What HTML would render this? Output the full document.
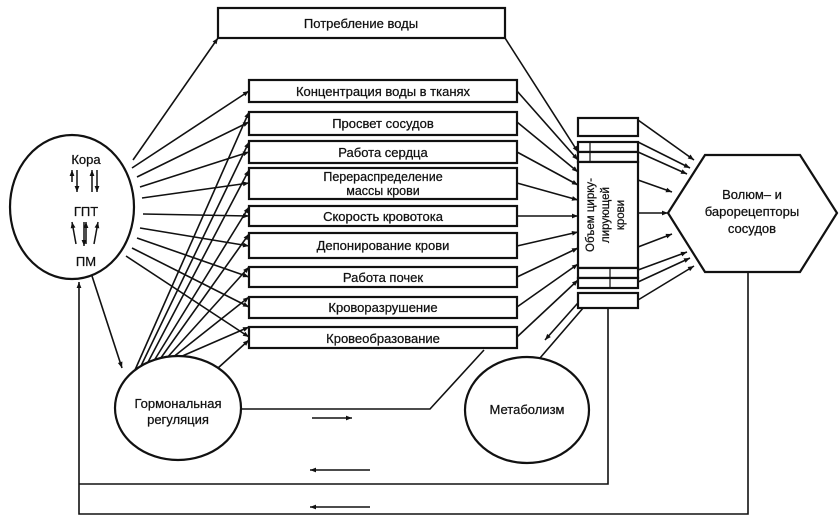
<!DOCTYPE html>
<html><head><meta charset="utf-8"><style>
html,body{margin:0;padding:0;background:#fff}
svg{display:block}
text{font-family:"Liberation Sans",sans-serif;font-size:13px;fill:#111;stroke:#111;stroke-width:0.25}
</style></head><body>
<svg width="840" height="529" viewBox="0 0 840 529" xmlns="http://www.w3.org/2000/svg">
<defs><marker id="a" viewBox="0 0 10 10" refX="10" refY="5" markerWidth="8" markerHeight="6" orient="auto" markerUnits="userSpaceOnUse"><path d="M0,1 L10,5 L0,9 z" fill="#111"/></marker></defs>
<g stroke="#111" stroke-width="1.6" fill="none">
<rect x="218" y="8" width="287" height="30" stroke-width="2.2" fill="#fff"/>
<line x1="133" y1="160" x2="218" y2="38" marker-end="url(#a)"/>
<line x1="505" y1="38" x2="578" y2="152" marker-end="url(#a)"/>
<line x1="132" y1="168" x2="249" y2="91" marker-end="url(#a)"/>
<line x1="137" y1="177" x2="249" y2="122" marker-end="url(#a)"/>
<line x1="140" y1="187" x2="249" y2="152" marker-end="url(#a)"/>
<line x1="142" y1="198" x2="249" y2="183" marker-end="url(#a)"/>
<line x1="143" y1="214" x2="249" y2="216" marker-end="url(#a)"/>
<line x1="140" y1="228" x2="249" y2="246" marker-end="url(#a)"/>
<line x1="137" y1="238" x2="249" y2="277" marker-end="url(#a)"/>
<line x1="132" y1="248" x2="249" y2="307" marker-end="url(#a)"/>
<line x1="126" y1="256" x2="249" y2="337" marker-end="url(#a)"/>
<line x1="135" y1="370" x2="249" y2="112" marker-end="url(#a)"/>
<line x1="140" y1="368" x2="249" y2="142" marker-end="url(#a)"/>
<line x1="146" y1="366" x2="249" y2="170" marker-end="url(#a)"/>
<line x1="152" y1="364" x2="249" y2="207" marker-end="url(#a)"/>
<line x1="158" y1="362" x2="249" y2="234" marker-end="url(#a)"/>
<line x1="165" y1="360" x2="249" y2="267" marker-end="url(#a)"/>
<line x1="172" y1="358" x2="249" y2="297" marker-end="url(#a)"/>
<line x1="180" y1="357" x2="249" y2="327" marker-end="url(#a)"/>
<line x1="218" y1="368" x2="249" y2="340" marker-end="url(#a)"/>
<line x1="92" y1="276" x2="122" y2="368" marker-end="url(#a)"/>
<line x1="517" y1="91" x2="578" y2="160" marker-end="url(#a)"/>
<line x1="517" y1="122" x2="578" y2="172" marker-end="url(#a)"/>
<line x1="517" y1="152" x2="578" y2="185" marker-end="url(#a)"/>
<line x1="517" y1="183" x2="578" y2="200" marker-end="url(#a)"/>
<line x1="517" y1="216" x2="578" y2="216" marker-end="url(#a)"/>
<line x1="517" y1="246" x2="578" y2="232" marker-end="url(#a)"/>
<line x1="517" y1="277" x2="578" y2="248" marker-end="url(#a)"/>
<line x1="517" y1="307" x2="578" y2="264" marker-end="url(#a)"/>
<line x1="517" y1="337" x2="578" y2="280" marker-end="url(#a)"/>
<line x1="585" y1="295" x2="545" y2="340" marker-end="url(#a)"/>
<line x1="540" y1="358" x2="590" y2="300" marker-end="url(#a)"/>
<line x1="638" y1="120" x2="694" y2="160" marker-end="url(#a)"/>
<line x1="638" y1="142" x2="690" y2="168" marker-end="url(#a)"/>
<line x1="638" y1="152" x2="687" y2="174" marker-end="url(#a)"/>
<line x1="638" y1="180" x2="672" y2="192" marker-end="url(#a)"/>
<line x1="638" y1="213" x2="668" y2="213" marker-end="url(#a)"/>
<line x1="638" y1="247" x2="672" y2="234" marker-end="url(#a)"/>
<line x1="638" y1="270" x2="687" y2="252" marker-end="url(#a)"/>
<line x1="638" y1="282" x2="690" y2="258" marker-end="url(#a)"/>
<line x1="638" y1="300" x2="694" y2="266" marker-end="url(#a)"/>
<polyline points="748,272 748,514 79,514 79,282" marker-end="url(#a)"/>
<polyline points="608,308 608,484 79,484"/>
<polyline points="242,409 430,409 484,350"/>
<line x1="312" y1="418" x2="352" y2="418" marker-end="url(#a)"/>
<line x1="370" y1="470" x2="310" y2="470" marker-end="url(#a)"/>
<line x1="370" y1="507" x2="310" y2="507" marker-end="url(#a)"/>
</g>
<g stroke="#111" stroke-width="2.2" fill="#fff">
<rect x="249" y="80" width="268" height="22"/>
<rect x="249" y="112" width="268" height="23"/>
<rect x="249" y="141" width="268" height="22"/>
<rect x="249" y="168" width="268" height="31"/>
<rect x="249" y="206" width="268" height="20"/>
<rect x="249" y="233" width="268" height="25"/>
<rect x="249" y="267" width="268" height="20"/>
<rect x="249" y="297" width="268" height="21"/>
<rect x="249" y="327" width="268" height="21"/>
<ellipse cx="72" cy="207" rx="62" ry="72"/>
<ellipse cx="178" cy="408" rx="63" ry="52"/>
<ellipse cx="527" cy="410" rx="62" ry="53"/>
<rect x="578" y="118" width="60" height="18"/>
<rect x="578" y="142" width="60" height="10"/>
<rect x="578" y="152" width="60" height="10"/>
<rect x="578" y="162" width="60" height="106"/>
<rect x="578" y="268" width="60" height="10"/>
<rect x="578" y="278" width="60" height="10"/>
<rect x="578" y="293" width="60" height="15"/>
<line x1="590" y1="142" x2="590" y2="162" stroke-width="1.2"/>
<line x1="610" y1="268" x2="610" y2="288" stroke-width="1.2"/>
<polygon points="668,213 705,155 800,155 837,213 800,272 705,272"/>
</g>
<g text-anchor="middle">
<text x="361" y="28">Потребление воды</text>
<text x="383" y="96">Концентрация воды в тканях</text>
<text x="383" y="128">Просвет сосудов</text>
<text x="383" y="157">Работа сердца</text>
<text x="383" y="181" style="font-size:12.5px">Перераспределение</text>
<text x="383" y="195" style="font-size:12.5px">массы крови</text>
<text x="383" y="221">Скорость кровотока</text>
<text x="383" y="250">Депонирование крови</text>
<text x="383" y="282">Работа почек</text>
<text x="383" y="312">Кроворазрушение</text>
<text x="383" y="343">Кровеобразование</text>
<text x="86" y="164">Кора</text>
<text x="86" y="216">ГПТ</text>
<text x="86" y="266">ПМ</text>
<text x="178" y="408">Гормональная</text>
<text x="178" y="424">регуляция</text>
<text x="527" y="414">Метаболизм</text>
<text x="752" y="199">Волюм– и</text>
<text x="752" y="216">барорецепторы</text>
<text x="752" y="233">сосудов</text>
<text transform="translate(594,215) rotate(-90)" style="font-size:11.5px">Объем цирку-</text>
<text transform="translate(609,215) rotate(-90)" style="font-size:11.5px">лирующей</text>
<text transform="translate(624,215) rotate(-90)" style="font-size:11.5px">крови</text>
</g>
<g stroke="#111" stroke-width="1.5" fill="none">
<line x1="72" y1="182" x2="72" y2="170" marker-end="url(#a)"/>
<line x1="77" y1="170" x2="77" y2="192" marker-end="url(#a)"/>
<line x1="92" y1="192" x2="92" y2="170" marker-end="url(#a)"/>
<line x1="97" y1="170" x2="97" y2="192" marker-end="url(#a)"/>
<line x1="76" y1="244" x2="72" y2="222" marker-end="url(#a)"/>
<line x1="84" y1="222" x2="84" y2="246" marker-end="url(#a)"/>
<line x1="86" y1="244" x2="86" y2="222" marker-end="url(#a)"/>
<line x1="94" y1="244" x2="98" y2="222" marker-end="url(#a)"/>
</g>
</svg>
</body></html>
